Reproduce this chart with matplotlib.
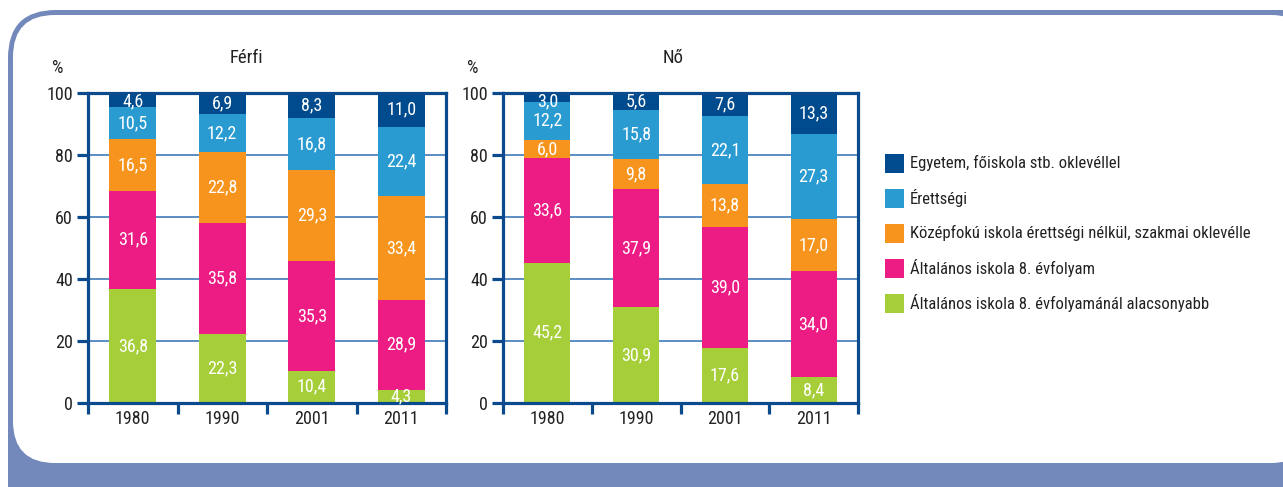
import matplotlib
matplotlib.use("Agg")
import matplotlib.pyplot as plt
from matplotlib.patches import FancyBboxPatch, Rectangle
from matplotlib import font_manager
import numpy as np

years = ["1980", "1990", "2001", "2011"]
categories = [
    "Általános iskola 8. évfolyamánál alacsonyabb",
    "Általános iskola 8. évfolyam",
    "Középfokú iskola érettségi nélkül, szakmai oklevélle",
    "Érettségi",
    "Egyetem, főiskola stb. oklevéllel",
]
colors = ["#a6ce39", "#ec1c84", "#f7941d", "#2a9bd0", "#004b8d"]

ferfi_below8 = [36.8, 22.3, 10.4, 4.3]
ferfi_8 = [31.6, 35.8, 35.3, 28.9]
ferfi_voc = [16.5, 22.8, 29.3, 33.4]
ferfi_erett = [10.5, 12.2, 16.8, 22.4]
ferfi_univ = [4.6, 6.9, 8.3, 11.0]

no_below8 = [45.2, 30.9, 17.6, 8.4]
no_8 = [33.6, 37.9, 39.0, 34.0]
no_voc = [6.0, 9.8, 13.8, 17.0]
no_erett = [12.2, 15.8, 22.1, 27.3]
no_univ = [3.0, 5.6, 7.6, 13.3]

yticks = [0, 20, 40, 60, 80, 100]

names = {f.name for f in font_manager.fontManager.ttflist}
fam = "DejaVu Sans"
for cand in ["Liberation Sans Narrow", "Roboto Condensed", "Open Sans Condensed", "Noto Sans Condensed"]:
    if cand in names:
        fam = cand
        break
narrow = fam != "DejaVu Sans"
FS = 13.0 if narrow else 10.5
FS_LEG = 12.0 if narrow else 9.5
FS_TITLE = 13.5 if narrow else 11
plt.rcParams["font.family"] = [fam, "DejaVu Sans"]

W, H = 1283, 487
fig = plt.figure(figsize=(W / 100, H / 100), dpi=100)

# background frame
bg = fig.add_axes([0, 0, 1, 1])
bg.set_xlim(0, W)
bg.set_ylim(H, 0)
bg.axis("off")
frame_col = "#7389bb"
bg.add_patch(FancyBboxPatch((8 + 48, 10 + 48), 1330 - 96, 530 - 96,
                            boxstyle="round,pad=48", fc=frame_col, ec="none"))
bg.add_patch(FancyBboxPatch((13 + 42, 15 + 42), 1300 - 84, (463 - 15) - 84,
                            boxstyle="round,pad=42", fc="white", ec="none"))

spine_col = "#0b4a8c"
grid_col = "#2f6fb3"
txt_col = "#222222"


def panel(rect, series, title, title_x):
    ax = fig.add_axes(rect)
    x = np.arange(len(years))
    bottom = np.zeros(len(years))
    for vals, col in zip(series, colors):
        vals = np.array(vals)
        ax.bar(x, vals, width=0.52, bottom=bottom, color=col, zorder=3, linewidth=0)
        for xi, b, v in zip(x, bottom, vals):
            yc = b + v / 2
            if b + v > 99 and v < 6:
                yc = min(yc, 97.0)
            ax.text(xi, yc, f"{v:.1f}".replace(".", ","), ha="center", va="center",
                    color="white", fontsize=FS, zorder=7, clip_on=False)
        bottom += vals
    ax.set_xlim(-0.5, len(years) - 0.5)
    ax.set_ylim(0, 100)
    ax.set_yticks(yticks)
    ax.set_yticklabels([str(t) for t in yticks])
    ax.set_xticks(x)
    ax.set_xticklabels(years)
    ax.set_xticks(np.arange(-0.5, len(years)), minor=True)
    ax.tick_params(axis="x", which="major", length=0, pad=5, labelsize=FS, colors=txt_col)
    ax.tick_params(axis="x", which="minor", length=8, width=2.3, color=spine_col, direction="out")
    ax.tick_params(axis="y", length=8, width=2.3, color=spine_col, pad=3, labelsize=FS,
                   labelcolor=txt_col)
    for s in ax.spines.values():
        s.set_color(spine_col)
        s.set_linewidth(2.3)
        s.set_zorder(5)
    for t in [20, 40, 60, 80]:
        ax.axhline(t, color=grid_col, linewidth=1.1, zorder=1)
    fig.text(title_x / W, 1 - 58 / H, title, ha="center", va="center", fontsize=FS_TITLE,
             color=txt_col)
    fig.text((rect[0] * W - 30) / W, 1 - 68 / H, "%", ha="center", va="center", fontsize=FS,
             color=txt_col)
    return ax


panel([88 / W, 84 / H, 358 / W, 310.5 / H],
      [ferfi_below8, ferfi_8, ferfi_voc, ferfi_erett, ferfi_univ], "Férfi", 246)
panel([503 / W, 84 / H, 355 / W, 310.5 / H],
      [no_below8, no_8, no_voc, no_erett, no_univ], "Nő", 673)

# legend (top to bottom: reversed category order)
ys = [163, 198, 233, 268, 303]
for y, lab, col in zip(ys, categories[::-1], colors[::-1]):
    bg.add_patch(Rectangle((885, y - 9.5), 19, 19, fc=col, ec="none"))
    bg.text(910, y, lab, ha="left", va="center", fontsize=FS_LEG, color=txt_col)

fig.savefig("out.png", dpi=100)
